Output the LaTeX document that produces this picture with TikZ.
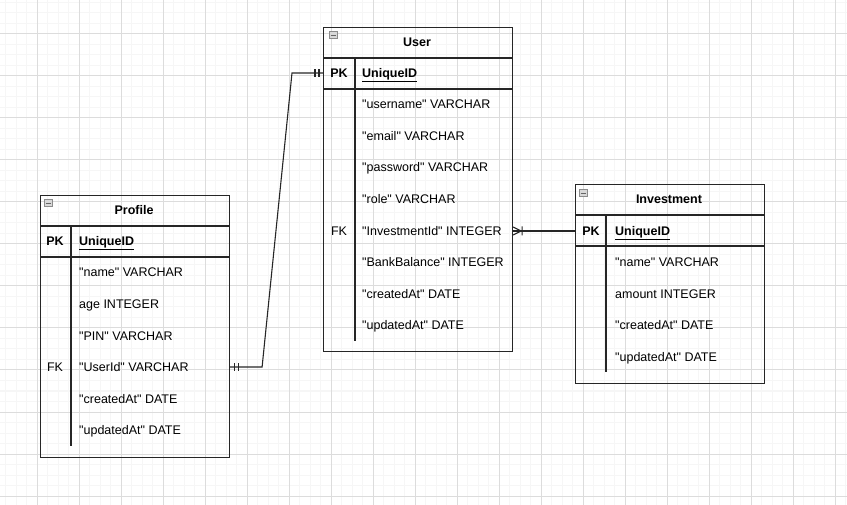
\documentclass[tikz,border=0pt]{standalone}
\usepackage{fontspec}
\setmainfont{Liberation Sans}[Ligatures=TeXOff]
\usetikzlibrary{calc,decorations.markings}

\definecolor{minorgrid}{HTML}{F6F6F6}
\definecolor{majorgrid}{HTML}{DCDCDC}
\definecolor{tblline}{HTML}{262626}

\tikzset{
    tbl/.style={draw=tblline, line width=1.1pt, anchor=north west, inner sep=0pt},
    sep/.style={draw=tblline, line width=1.1pt},
    title/.style={font=\fontsize{12.5}{14}\selectfont\bfseries, inner sep=0pt, text height=9pt, text depth=0pt},
    fld/.style={font=\fontsize{12.5}{14}\selectfont, anchor=west, inner sep=0pt, text height=9pt, text depth=0pt},
    key/.style={font=\fontsize{12.5}{14}\selectfont, inner sep=0pt, text height=9pt, text depth=0pt},
    icon/.style={draw=black!45, fill=black!15, line width=0.6pt, minimum size=7.5pt, inner sep=0pt, anchor=north west},
    rel/.style={draw=tblline, line width=1.1pt},
    onebars/.style={postaction={decorate}, decoration={markings,
        mark=at position 4pt with {\draw[line width=1.1pt] (0,-4pt)--(0,4pt);},
        mark=at position 8pt with {\draw[line width=1.1pt] (0,-4pt)--(0,4pt);},
        mark=at position -4pt with {\draw[line width=1.1pt] (0,-4pt)--(0,4pt);},
        mark=at position -8pt with {\draw[line width=1.1pt] (0,-4pt)--(0,4pt);}}},
    manyend/.style={postaction={decorate}, decoration={markings,
        mark=at position -8pt with {\draw[line width=1.1pt] (0,0)--(8pt,4pt) (0,0)--(8pt,-4pt) (-1pt,-4.5pt)--(-1pt,4.5pt);}}}
}

\begin{document}
\begin{tikzpicture}[x=1pt, y=-1pt]
    \useasboundingbox (0,0) rectangle (847,505);
    \clip (0,0) rectangle (847,505);
    % background grid
    \draw[minorgrid, line width=1pt, shift={(37,34)}, step=10.5pt] (-42,-42) grid (820,480);
    \draw[majorgrid, line width=1pt, shift={(37,34)}, step=42pt] (-42,-42) grid (820,480);

    % User
    \node[tbl, minimum width=189pt, minimum height=324pt] (user) at (323,27) {};
    \node[icon] (usericon) at (329,31) {};
    \draw[black!60, line width=0.8pt] ($(usericon.west)+(1.5,0)$) -- ($(usericon.east)+(-1.5,0)$);
    \node[title] (usertitle) at (417,42) {User};
    \draw[sep] (323,58) -- (512,58);
    \draw[sep] (323,89) -- (512,89);
    \draw[sep] (355,58) -- (355,341);
    \node[key, font=\fontsize{12.5}{14}\selectfont\bfseries] (userpklbl) at (339,73) {PK};
    \node[fld, font=\fontsize{12.5}{14}\selectfont\bfseries] (userpk) at (362,73) {\underline{UniqueID}};
    \node[fld] (user1) at (362,104) {"username" VARCHAR};
    \node[fld] (user2) at (362,136) {"email" VARCHAR};
    \node[fld] (user3) at (362,167) {"password" VARCHAR};
    \node[fld] (user4) at (362,199) {"role" VARCHAR};
    \node[key] (userfklbl) at (339,231) {FK};
    \node[fld] (userfk) at (362,231) {"InvestmentId" INTEGER};
    \node[fld] (user6) at (362,262) {"BankBalance" INTEGER};
    \node[fld] (user7) at (362,294) {"createdAt" DATE};
    \node[fld] (user8) at (362,325) {"updatedAt" DATE};

    % Profile
    \node[tbl, minimum width=189pt, minimum height=262pt] (profile) at (40,195) {};
    \node[icon] (profileicon) at (44,199) {};
    \draw[black!60, line width=0.8pt] ($(profileicon.west)+(1.5,0)$) -- ($(profileicon.east)+(-1.5,0)$);
    \node[title] (profiletitle) at (134,210) {Profile};
    \draw[sep] (40,226) -- (229,226);
    \draw[sep] (40,257) -- (229,257);
    \draw[sep] (71,226) -- (71,446);
    \node[key, font=\fontsize{12.5}{14}\selectfont\bfseries] (profilepklbl) at (55,241) {PK};
    \node[fld, font=\fontsize{12.5}{14}\selectfont\bfseries] (profilepk) at (79,241) {\underline{UniqueID}};
    \node[fld] (profile1) at (79,272) {"name" VARCHAR};
    \node[fld] (profile2) at (79,304) {age INTEGER};
    \node[fld] (profile3) at (79,336) {"PIN" VARCHAR};
    \node[key] (profilefklbl) at (55,367) {FK};
    \node[fld] (profilefk) at (79,367) {"UserId" VARCHAR};
    \node[fld] (profile5) at (79,399) {"createdAt" DATE};
    \node[fld] (profile6) at (79,430) {"updatedAt" DATE};

    % Investment
    \node[tbl, minimum width=189pt, minimum height=199pt] (invest) at (575,184) {};
    \node[icon] (investicon) at (579,189) {};
    \draw[black!60, line width=0.8pt] ($(investicon.west)+(1.5,0)$) -- ($(investicon.east)+(-1.5,0)$);
    \node[title] (investtitle) at (669,199) {Investment};
    \draw[sep] (575,215) -- (764,215);
    \draw[sep] (575,246) -- (764,246);
    \draw[sep] (606,215) -- (606,372);
    \node[key, font=\fontsize{12.5}{14}\selectfont\bfseries] (investpklbl) at (591,231) {PK};
    \node[fld, font=\fontsize{12.5}{14}\selectfont\bfseries] (investpk) at (615,231) {\underline{UniqueID}};
    \node[fld] (invest1) at (615,262) {"name" VARCHAR};
    \node[fld] (invest2) at (615,294) {amount INTEGER};
    \node[fld] (invest3) at (615,325) {"createdAt" DATE};
    \node[fld] (invest4) at (615,357) {"updatedAt" DATE};

    % relations
    \draw[rel, onebars] (profile.east |- profilefk) -- ++(32,0)
        -- ($(user.west |- userpklbl)+(-31,0)$) -- (user.west |- userpklbl);
    \draw[rel, manyend] (invest.west |- investpklbl) -- (user.east |- userfk);
\end{tikzpicture}
\end{document}
